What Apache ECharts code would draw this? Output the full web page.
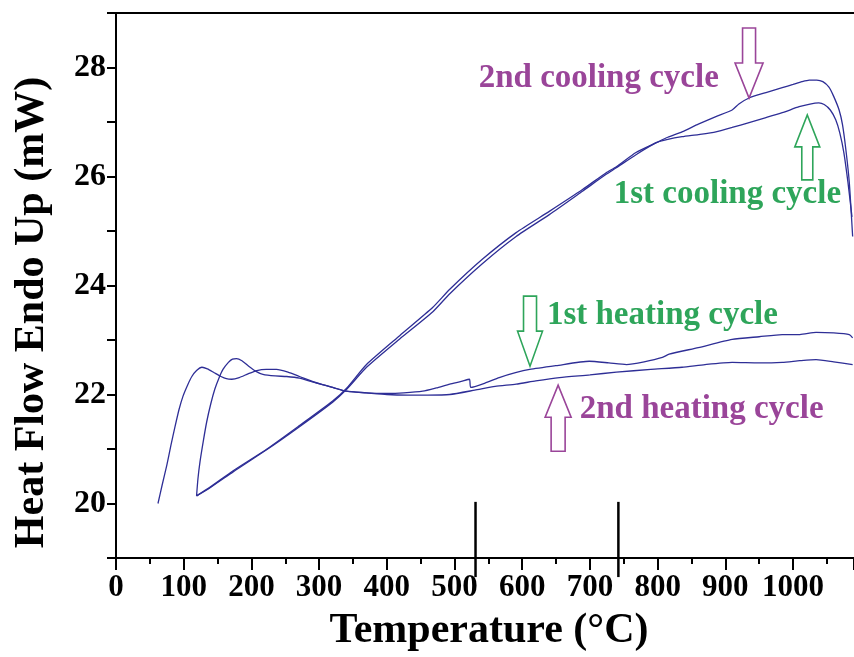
<!DOCTYPE html>
<html><head><meta charset="utf-8">
<script src="https://cdn.jsdelivr.net/npm/echarts@6/dist/echarts.min.js"></script>
<style>html,body{margin:0;padding:0;background:#fff}#c{width:854px;height:657px}</style>
</head><body><div id="c"></div>
<script>
// ---- data (Temperature °C, Heat flow mW) ----
const heating1 = [[62,20.0],[68,20.33],[75,20.7],[81,21.06],[87,21.4],[93,21.72],[99,21.97],[106,22.18],[112,22.33],[119,22.44],[127,22.5],[135,22.47],[145,22.4],[155,22.33],[163,22.29],[171,22.28],[182,22.31],[195,22.38],[208,22.44],[222,22.46],[237,22.46],[254,22.41],[271,22.33],[290,22.24],[305,22.18],[320,22.13],[340,22.06],[370,22.03],[400,22.02],[425,22.03],[453,22.06],[473,22.12],[493,22.19],[510,22.24],[522,22.28],[524,22.13],[545,22.21],[566,22.31],[590,22.4],[611,22.46],[650,22.53],[699,22.61],[728,22.58],[754,22.55],[780,22.6],[807,22.68],[817,22.74],[860,22.86],[910,23.01],[950,23.06],[984,23.1],[1010,23.1],[1034,23.14],[1060,23.13],[1083,23.1],[1088,23.04]];
const heating2 = [[119,20.14],[121,20.45],[124,20.76],[129,21.15],[134,21.5],[140,21.83],[146,22.1],[152,22.3],[158,22.46],[166,22.59],[172,22.65],[178,22.66],[186,22.62],[196,22.52],[206,22.43],[217,22.37],[235,22.34],[252,22.33],[271,22.3],[290,22.23],[320,22.13],[340,22.06],[370,22.03],[400,22.0],[430,21.99],[460,21.99],[493,22.0],[530,22.08],[560,22.15],[591,22.19],[620,22.25],[655,22.31],[700,22.36],[739,22.41],[790,22.46],[836,22.5],[870,22.55],[910,22.59],[950,22.58],[984,22.59],[1010,22.62],[1034,22.64],[1060,22.6],[1088,22.55]];
const cooling1 = [[1087,25.26],[1081,25.9],[1075,26.44],[1069,26.8],[1063,27.04],[1055,27.22],[1046,27.32],[1038,27.35],[1025,27.33],[1009,27.28],[984,27.17],[960,27.08],[935,26.99],[910,26.9],[886,26.82],[860,26.77],[836,26.73],[815,26.68],[798,26.62],[768,26.4],[739,26.16],[724,26.04],[689,25.73],[640,25.3],[591,24.9],[541,24.4],[493,23.85],[468,23.52],[419,23.02],[370,22.5],[341,22.1],[320,21.86],[271,21.41],[223,20.99],[173,20.58],[139,20.29],[119,20.14]];
const cooling2 = [[1088,24.9],[1083,25.9],[1078,26.49],[1073,26.95],[1068,27.22],[1060,27.47],[1053,27.64],[1044,27.74],[1035,27.77],[1024,27.77],[1013,27.74],[1000,27.69],[984,27.63],[960,27.54],[935,27.44],[920,27.33],[910,27.22],[886,27.1],[860,26.96],[836,26.82],[815,26.72],[798,26.62],[768,26.44],[739,26.18],[724,26.07],[689,25.76],[640,25.36],[591,24.97],[541,24.48],[493,23.93],[468,23.6],[419,23.08],[370,22.55],[341,22.12],[320,21.88],[271,21.43],[223,21.0],[173,20.6],[139,20.3],[119,20.14]];
const markerTemps = [531, 742];
const markerRange = [20.03, 18.65];
const labelTexts = ['2nd cooling cycle', '1st cooling cycle', '1st heating cycle', '2nd heating cycle'];
const labelAnchors = [[713, 27.80], [903, 25.67], [807, 23.45], [865, 21.73]];
const arrowTips = [[935, 27.44], [1021, 27.13], [611.5, 22.52], [653, 22.17]];
const xName = 'Temperature (°C)';
const yName = 'Heat Flow Endo Up (mW)';

// ---- styles ----
const PURPLE = '#9a4599', GREEN = '#2ea55a', CURVE = '#2e2e96';
const FONT = "'Liberation Serif', 'Times New Roman', serif";
const labelColors = [PURPLE, GREEN, GREEN, PURPLE];
const arrowDirs = [1, -1, 1, -1]; // 1 = pointing down
const arrowDims = [ // length, head length, head width, shaft width
  [70, 35, 28, 13], [65, 32, 25, 11], [70, 35, 25, 13], [66, 32, 26, 14]];

const chart = echarts.init(document.getElementById('c'), null, {renderer: 'canvas'});
const curve = (name, data) => ({
  name, type: 'line', data, showSymbol: false, symbol: 'none', smooth: 0.2,
  lineStyle: {color: CURVE, width: 1.3}, z: 3
});
const series = [curve('1st heating', heating1), curve('2nd heating', heating2),
  curve('1st cooling', cooling1), curve('2nd cooling', cooling2)];
markerTemps.forEach(t => series.push({
  type: 'line', data: [[t, markerRange[0]], [t, markerRange[1]]], symbol: 'none',
  clip: false, lineStyle: {color: '#000', width: 2.5}, z: 4
}));

chart.setOption({
  animation: false,
  grid: {left: 116, right: 0, top: 13, bottom: 98},
  xAxis: [{
    type: 'value', min: 0, max: 1090, interval: 100, position: 'bottom',
    axisLine: {onZero: false, lineStyle: {color: '#000', width: 2}},
    axisTick: {length: 12, lineStyle: {color: '#000', width: 2}},
    minorTick: {show: true, splitNumber: 2, length: 6, lineStyle: {color: '#000', width: 2}},
    splitLine: {show: false},
    axisLabel: {color: '#000', fontFamily: FONT, fontWeight: 'bold', fontSize: 31, margin: 14,
      showMaxLabel: false, formatter: v => String(v)},
    name: xName, nameLocation: 'middle', nameGap: 52,
    nameTextStyle: {color: '#000', fontFamily: FONT, fontWeight: 'bold', fontSize: 42, padding: [0, 0, 0, 8]}
  }, {
    type: 'value', min: 0, max: 1090, position: 'top',
    axisLine: {show: true, onZero: false, lineStyle: {color: '#000', width: 2}},
    axisTick: {show: false}, axisLabel: {show: false}, splitLine: {show: false}
  }],
  yAxis: {
    type: 'value', min: 19, max: 29, interval: 1,
    axisLine: {show: true, onZero: false, lineStyle: {color: '#000', width: 2}},
    axisTick: {length: 9, lineStyle: {color: '#000', width: 2}},
    splitLine: {show: false},
    axisLabel: {color: '#000', fontFamily: FONT, fontWeight: 'bold', fontSize: 32, margin: 10,
      formatter: v => (v % 2 === 0 ? String(v) : '')},
    name: yName, nameLocation: 'middle', nameGap: 63, nameRotate: 90,
    nameTextStyle: {color: '#000', fontFamily: FONT, fontWeight: 'bold', fontSize: 42, padding: [0, 54, 0, 0]}
  },
  series
});

// ---- annotations anchored to data coordinates ----
const toPx = p => chart.convertToPixel({xAxisIndex: 0, yAxisIndex: 0}, p);
const graphics = [];
labelTexts.forEach((t, i) => {
  const [px, py] = toPx(labelAnchors[i]);
  graphics.push({type: 'text', x: px, y: py, z: 10, style: {
    text: t, fill: labelColors[i], font: `bold 33px ${FONT}`, align: 'center', verticalAlign: 'middle'}});
});
arrowTips.forEach((tip, i) => {
  const [tx, ty] = toPx(tip);
  const [L, hl, hw, sw] = arrowDims[i];
  const d = arrowDirs[i];
  const pts = [[tx - sw / 2, ty - d * L], [tx + sw / 2, ty - d * L], [tx + sw / 2, ty - d * hl],
    [tx + hw / 2, ty - d * hl], [tx, ty], [tx - hw / 2, ty - d * hl], [tx - sw / 2, ty - d * hl]];
  graphics.push({type: 'polygon', z: 10, shape: {points: pts},
    style: {fill: 'rgba(255,255,255,0)', stroke: labelColors[i], lineWidth: 1.6}});
});
chart.setOption({graphic: graphics});
</script></body></html>
